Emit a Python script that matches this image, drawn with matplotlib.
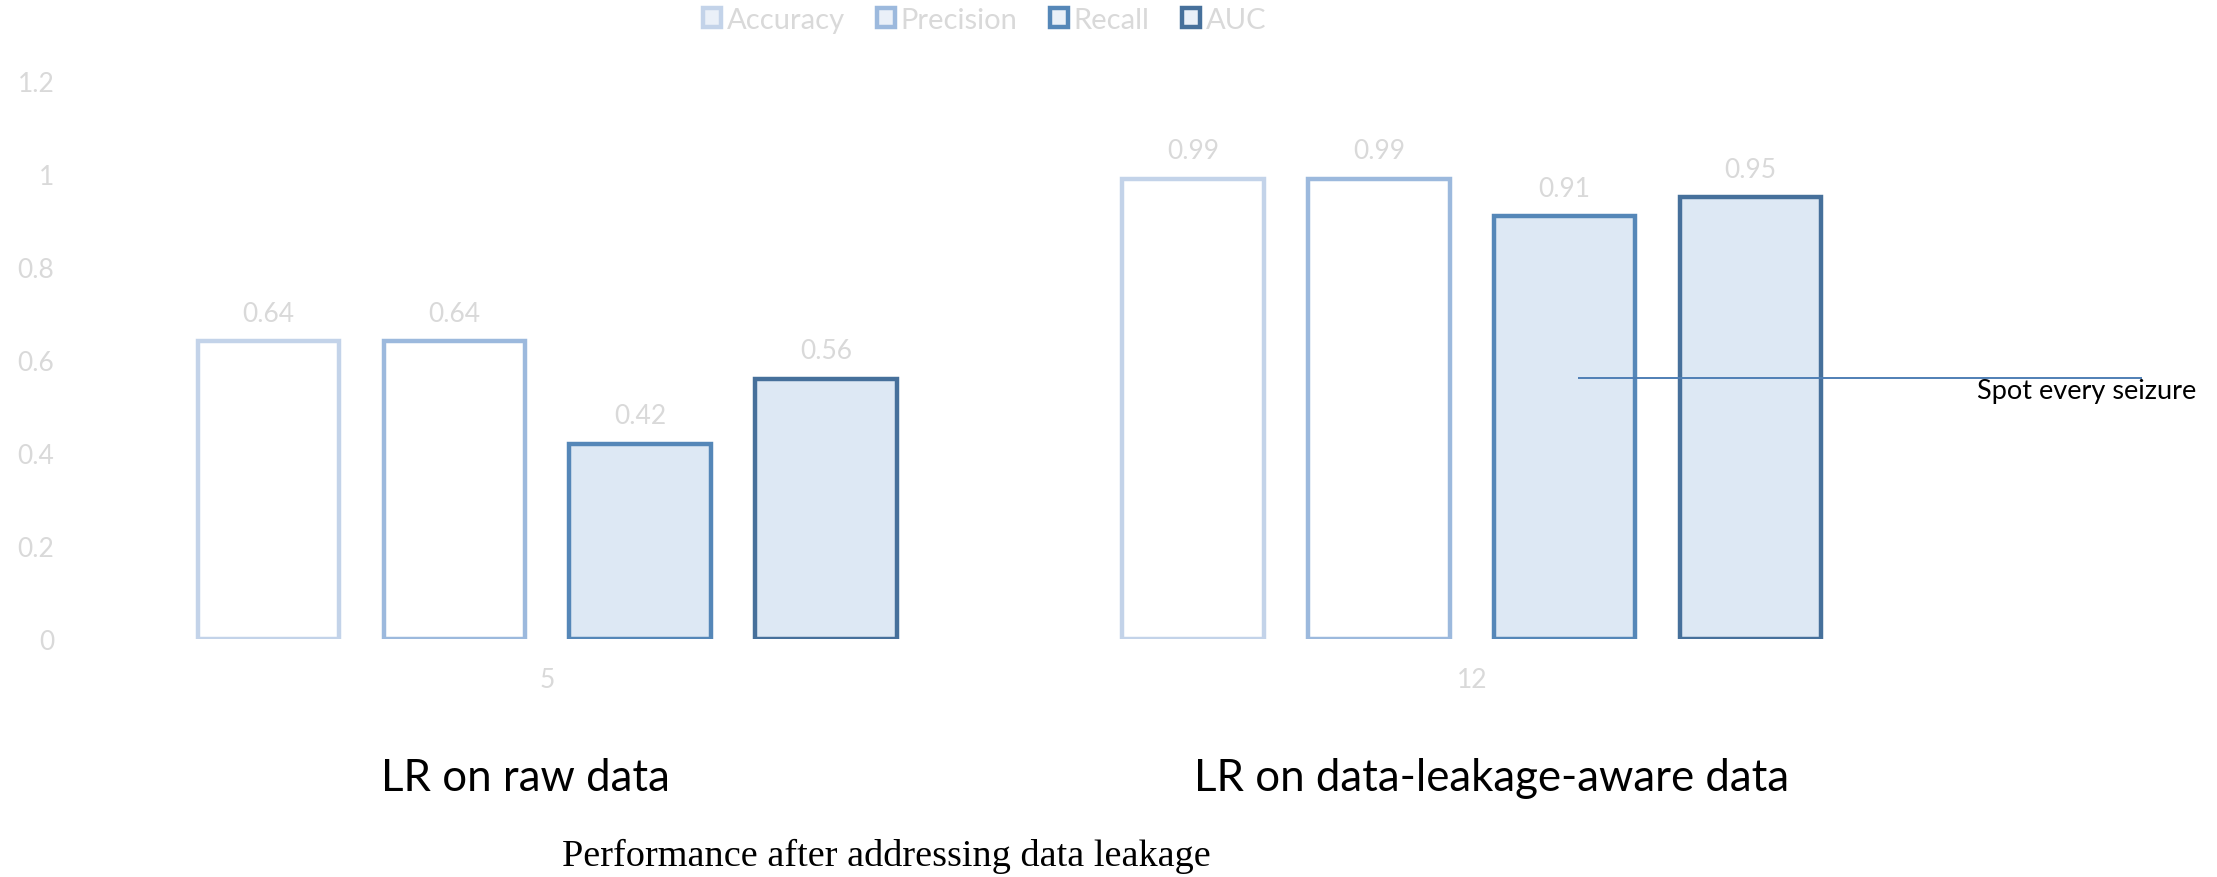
"""Grouped bar chart: LR performance before and after addressing data leakage."""

import matplotlib
matplotlib.use('Agg')
import matplotlib.pyplot as plt
import numpy as np

plt.rcParams['font.family'] = ['Lato', 'DejaVu Sans']

# data
groups = ['5', '12']
group_titles = ['LR on raw data', 'LR on data-leakage-aware data']
metrics = ['Accuracy', 'Precision', 'Recall', 'AUC']
accuracy = [0.64, 0.99]
precision = [0.64, 0.99]
recall = [0.42, 0.91]
auc = [0.56, 0.95]
series = [accuracy, precision, recall, auc]

EDGE_COLORS = ['#c3d3e9', '#9cb9dd', '#5587b8', '#46709b']
FACE_COLORS = ['white', 'white', '#dde8f4', '#dde8f4']
FAINT = '#d9d9d9'

BAR_STEP = 0.201
BAR_WIDTH = 0.153

fig = plt.figure(figsize=(22.17, 8.78), dpi=100)
ax = fig.add_axes([0.0383, 0.271, 0.8341, 0.6355])

x = np.arange(len(groups))
handles = []
for i, (name, values) in enumerate(zip(metrics, series)):
    offset = (i - 1.5) * BAR_STEP
    bars = ax.bar(
        x + offset,
        values,
        width=BAR_WIDTH,
        facecolor=FACE_COLORS[i],
        edgecolor=EDGE_COLORS[i],
        linewidth=3.2,
        label=name,
    )
    ax.bar_label(bars, labels=[f'{v:g}' for v in values], padding=11,
                 color=FAINT, fontsize=19)
    handles.append(bars)

ax.set_xlim(-0.5, 1.5)
ax.set_ylim(0, 1.2)
ax.set_yticks(np.arange(0, 1.21, 0.2))
ax.set_yticklabels(['0', '0.2', '0.4', '0.6', '0.8', '1', '1.2'])
ax.set_xticks(x)
ax.set_xticklabels(groups)
ax.tick_params(axis='both', length=0, colors=FAINT, labelsize=19)
ax.tick_params(axis='x', pad=20)
ax.tick_params(axis='y', pad=22)
for spine in ax.spines.values():
    spine.set_visible(False)

# callout line and note on the right
ax.hlines(0.562, 1.115, 1.725, color='#4f7fb5', linewidth=1.4, clip_on=False)
ax.text(1.546, 0.535, 'Spot every seizure', fontsize=19.5, color='black',
        va='center', ha='left', clip_on=False)

# group titles under the axis
title_x = [-0.024, 1.021]
for xi, title in zip(title_x, group_titles):
    ax.text(xi, -0.298, title, fontsize=31.5, color='black', ha='center',
            va='center', clip_on=False)

fig.text(0.3997, 0.024, 'Performance after addressing data leakage',
         family='Liberation Serif', fontsize=27.5, ha='center', va='center')

leg = fig.legend(handles, metrics, loc='center', bbox_to_anchor=(0.444, 0.976),
                 ncol=4, frameon=False, fontsize=21, handlelength=0.62,
                 handleheight=0.62, handletextpad=0.2, columnspacing=1.1)
for text in leg.get_texts():
    text.set_color(FAINT)
for patch in leg.get_patches():
    patch.set_facecolor('#eaf0f8')

fig.savefig('out.png', dpi=100, facecolor='white')
